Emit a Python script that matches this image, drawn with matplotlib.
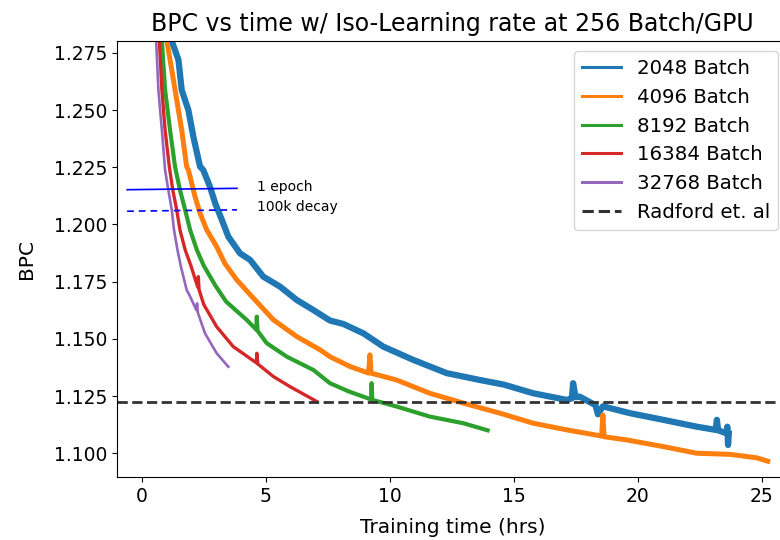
import matplotlib
matplotlib.use("Agg")
import matplotlib.pyplot as plt

# BPC vs training time (hrs)
t_2048 = [1.21, 1.48, 1.61, 1.88, 2.08, 2.35, 2.48, 2.75, 2.96, 3.23, 3.49, 3.96, 4.37,
          4.90, 5.58, 6.25, 6.92, 7.59, 8.13, 8.94, 9.74, 10.95, 12.3, 13.64, 14.6,
          15.79, 17.14, 17.35, 17.40, 17.50, 17.67, 18.3, 18.4, 18.6, 19.69, 21.03,
          22.38, 23.15, 23.20, 23.25, 23.59, 23.62, 23.65, 23.68]
bpc_2048 = [1.2802, 1.2719, 1.2588, 1.2500, 1.2384, 1.2253, 1.2238, 1.2165, 1.2093,
            1.2020, 1.1947, 1.1874, 1.1845, 1.1772, 1.1728, 1.1670, 1.1626, 1.1580,
            1.1565, 1.1524, 1.1466, 1.1408, 1.1350, 1.1320, 1.1300, 1.1262, 1.1233,
            1.1240, 1.1306, 1.1245, 1.1247, 1.1210, 1.1170, 1.1205, 1.1175, 1.1146,
            1.1116, 1.1102, 1.1146, 1.1100, 1.1087, 1.1116, 1.1036, 1.1085]

t_4096 = [1.01, 1.21, 1.41, 1.61, 1.81, 1.88, 2.15, 2.35, 2.62, 3.02, 3.35, 3.83, 4.40,
          5.31, 6.25, 7.19, 7.59, 8.40, 9.15, 9.20, 9.25, 10.28, 11.62, 12.97, 14.45,
          15.79, 17.14, 18.55, 18.60, 18.65, 19.56, 21.03, 22.38, 23.72, 24.8, 25.25]
bpc_4096 = [1.2802, 1.2675, 1.2544, 1.2413, 1.2253, 1.2238, 1.2121, 1.2049, 1.1976,
            1.1903, 1.1830, 1.1758, 1.1690, 1.1583, 1.1510, 1.1452, 1.1422, 1.1379,
            1.1350, 1.1430, 1.1350, 1.1320, 1.1262, 1.1219, 1.1175, 1.1131, 1.1102,
            1.1075, 1.1167, 1.1072, 1.1058, 1.1029, 1.1000, 1.0995, 1.0980, 1.0965]

t_8192 = [0.81, 0.94, 1.14, 1.34, 1.54, 1.75, 1.95, 2.22, 2.50, 2.95, 3.40, 4.23, 4.62,
          4.64, 4.67, 5.04, 5.85, 6.92, 7.59, 8.35, 9.25, 9.27, 9.30, 10.28, 11.62,
          12.97, 13.95]
bpc_8192 = [1.2802, 1.2588, 1.2413, 1.2253, 1.2151, 1.2063, 1.1976, 1.1889, 1.1820,
            1.1736, 1.1663, 1.1583, 1.1540, 1.1597, 1.1535, 1.1481, 1.1422, 1.1364,
            1.1306, 1.1270, 1.1235, 1.1306, 1.1233, 1.1204, 1.1160, 1.1131, 1.1100]

t_16384 = [0.71, 0.81, 0.94, 1.11, 1.25, 1.41, 1.54, 1.75, 1.98, 2.26, 2.28, 2.31, 2.50,
           3.02, 3.69, 4.62, 4.64, 4.68, 5.31, 5.98, 7.06]
bpc_16384 = [1.2802, 1.2588, 1.2413, 1.2253, 1.2151, 1.2063, 1.1976, 1.1889, 1.1820,
             1.1725, 1.1772, 1.1715, 1.1650, 1.1553, 1.1466, 1.1395, 1.1437, 1.1390,
             1.1335, 1.1291, 1.1226]

t_32768 = [0.58, 0.67, 0.81, 0.94, 1.07, 1.21, 1.30, 1.44, 1.58, 1.81, 1.95, 2.20, 2.23,
           2.26, 2.55, 3.02, 3.49]
bpc_32768 = [1.2802, 1.2588, 1.2413, 1.2238, 1.2151, 1.2063, 1.1976, 1.1889, 1.1815,
             1.1714, 1.1685, 1.1626, 1.1655, 1.1615, 1.1524, 1.1437, 1.1378]

radford_bpc = 1.1223

series = [
    (t_2048, bpc_2048, "2048 Batch", 4.5),
    (t_4096, bpc_4096, "4096 Batch", 3.6),
    (t_8192, bpc_8192, "8192 Batch", 3.0),
    (t_16384, bpc_16384, "16384 Batch", 2.4),
    (t_32768, bpc_32768, "32768 Batch", 1.9),
]

fig = plt.figure(figsize=(7.8, 5.4), dpi=100)
# the right spine sits just past the picture edge, as in the original crop
ax = fig.add_axes([0.15, 0.1167, 0.86, 0.8073])

for t, bpc, name, lw in series:
    ax.plot(t, bpc, lw=lw, label=name, solid_joinstyle="round")
ax.axhline(radford_bpc, color="#333333", ls="--", lw=2, label="Radford et. al")

# epoch / decay markers
ax.plot([-0.59, 3.84], [1.2152, 1.2158], color="blue", lw=1.2)
ax.plot([-0.59, 3.84], [1.2058, 1.2064], color="blue", lw=1.2, ls=(0, (4, 3)))
ax.text(4.65, 1.2163, "1 epoch", fontsize=10, va="center")
ax.text(4.65, 1.2075, "100k decay", fontsize=10, va="center")

ax.set_xlim(-1.0, 26.06)
ax.set_ylim(1.0896, 1.2802)
ax.set_yticks([1.100, 1.125, 1.150, 1.175, 1.200, 1.225, 1.250, 1.275])
ax.tick_params(labelsize=13.5)
ax.set_xlabel("Training time (hrs)", fontsize=14.5, labelpad=9)
ax.set_ylabel("BPC", fontsize=14.5, labelpad=13)
ax.set_title("BPC vs time w/ Iso-Learning rate at 256 Batch/GPU", fontsize=17, pad=7)
leg = ax.legend(loc="upper right", fontsize=14.2, borderaxespad=0.5)
for h in leg.get_lines():
    h.set_linewidth(2.2)

fig.savefig("out.png", dpi=100)
